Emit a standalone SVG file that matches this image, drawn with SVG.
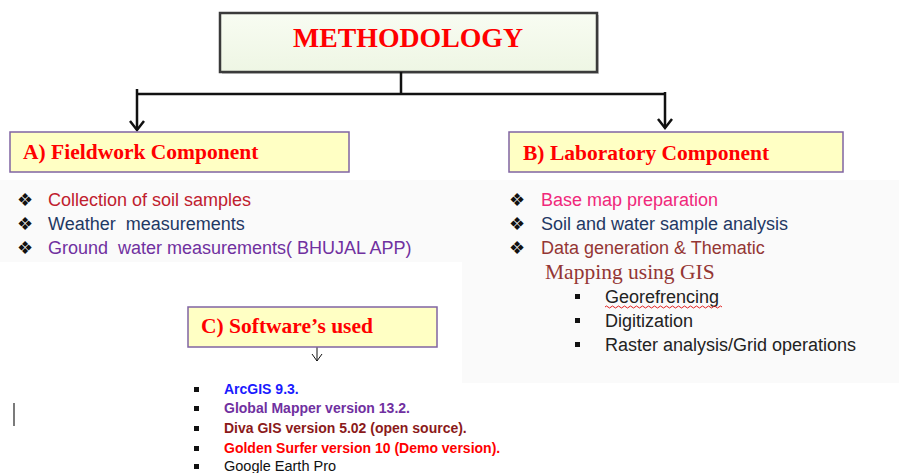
<svg xmlns="http://www.w3.org/2000/svg" width="899" height="473" viewBox="0 0 899 473">
<style>
.hdr{font-family:"Liberation Serif","Times New Roman",serif;font-weight:bold;fill:#ff0000;font-size:21.5px}
.box{fill:#ffffc4;stroke:#8064a2;stroke-width:1.5}
.bl{font-family:"Liberation Sans",Arial,sans-serif;font-size:18px;white-space:pre}
.dia{font-family:"DejaVu Sans",sans-serif;font-size:18px;fill:#111}
.sw{font-family:"Liberation Sans",Arial,sans-serif;font-size:14px;font-weight:bold}
.sq{fill:#111}
.conn{stroke:#111;stroke-width:2.5;fill:none}
</style>
<defs>
<linearGradient id="mg" x1="0" y1="0" x2="0" y2="1">
<stop offset="0" stop-color="#f8fcf2"/>
<stop offset="1" stop-color="#eef6e4"/>
</linearGradient>
</defs>
<rect width="899" height="473" fill="#ffffff"/>
<rect x="0" y="180" width="462" height="82" fill="#fafafa"/>
<rect x="462" y="180" width="437" height="203" fill="#fafafa"/>

<g id="methodology">
<rect x="222" y="15" width="377" height="59" fill="#c8c8c8"/>
<rect x="220" y="13" width="377" height="59" fill="url(#mg)" stroke="#3a3a3a" stroke-width="2.5"/>
<text x="408" y="47" text-anchor="middle" font-family="'Liberation Serif','Times New Roman',serif" font-weight="bold" font-size="27" fill="#ff0000" textLength="230" lengthAdjust="spacingAndGlyphs">METHODOLOGY</text>
</g>

<g id="connectors">
<path class="conn" d="M401 72 V94 M137 94 H665 M137 89 V130 M665 92 V128"/>
<path class="conn" d="M130 121 L137 130 L144 121 M658 119 L665 128 L672 119"/>
<path d="M317 342 V361 M312 354 L317 361 L322 354" stroke="#111" stroke-width="1" fill="none"/>
</g>

<g id="fieldwork">
<rect class="box" x="10" y="132" width="339" height="40"/>
<text class="hdr" x="23" y="159">A) Fieldwork Component</text>
</g>

<g id="laboratory">
<rect class="box" x="509" y="132" width="334" height="40"/>
<text class="hdr" x="523" y="160">B) Laboratory Component</text>
</g>

<g id="software">
<rect class="box" x="188" y="307" width="249" height="40"/>
<text class="hdr" x="201" y="333">C) Software’s used</text>
</g>

<g id="fieldwork-list">
<text class="dia" x="17" y="206">❖</text>
<text class="dia" x="17" y="230">❖</text>
<text class="dia" x="17" y="254">❖</text>
<text class="bl" x="48" y="206" fill="#c0202e">Collection of soil samples</text>
<text class="bl" x="48" y="230" fill="#1f3864">Weather  measurements</text>
<text class="bl" x="48" y="254" fill="#7030a0">Ground  water measurements( BHUJAL APP)</text>
</g>

<g id="laboratory-list">
<text class="dia" x="509" y="206">❖</text>
<text class="dia" x="509" y="230">❖</text>
<text class="dia" x="509" y="254">❖</text>
<text class="bl" x="541" y="206" fill="#f0287a">Base map preparation</text>
<text class="bl" x="541" y="230" fill="#1f3864">Soil and water sample analysis</text>
<text class="bl" x="541" y="254" fill="#943634">Data generation &amp; Thematic</text>
<text x="545" y="279" font-family="'Liberation Serif','Times New Roman',serif" font-size="21.5" fill="#943634">Mapping using GIS</text>
<rect class="sq" x="575" y="294" width="5" height="5"/>
<rect class="sq" x="575" y="318" width="5" height="5"/>
<rect class="sq" x="575" y="342" width="5" height="5"/>
<text class="bl" x="605" y="303" fill="#222">Georefrencing</text>
<path d="M605 307 q1.5 -2 3 0 t3 0 t3 0 t3 0 t3 0 t3 0 t3 0 t3 0 t3 0 t3 0 t3 0 t3 0 t3 0 t3 0 t3 0 t3 0 t3 0 t3 0 t3 0 t3 0 t3 0 t3 0 t3 0 t3 0 t3 0 t3 0 t3 0 t3 0 t3 0 t3 0 t3 0 t3 0 t3 0 t3 0 t3 0 t3 0 t3 0 t3 0 t3 0" stroke="#e02020" stroke-width="1" fill="none"/>
<text class="bl" x="605" y="327" fill="#222">Digitization</text>
<text class="bl" x="605" y="351" fill="#222">Raster analysis/Grid operations</text>
</g>

<g id="software-list">
<rect class="sq" x="194" y="387" width="5" height="5"/>
<rect class="sq" x="194" y="406" width="5" height="5"/>
<rect class="sq" x="194" y="426" width="5" height="5"/>
<rect class="sq" x="194" y="446" width="5" height="5"/>
<rect class="sq" x="194" y="464" width="5" height="5"/>
<text class="sw" x="224" y="394" fill="#1a1aff">ArcGIS 9.3.</text>
<text class="sw" x="224" y="413" fill="#7030a0">Global Mapper version 13.2.</text>
<text class="sw" x="224" y="433" fill="#8b1a1a">Diva GIS version 5.02 (open source).</text>
<text class="sw" x="224" y="453" fill="#ff0000">Golden Surfer version 10 (Demo version).</text>
<text x="224" y="471" font-family="'Liberation Sans',Arial,sans-serif" font-size="14.5" fill="#111">Google Earth Pro</text>
</g>

<line x1="14" y1="403" x2="14" y2="426" stroke="#222" stroke-width="1.2"/>
</svg>
